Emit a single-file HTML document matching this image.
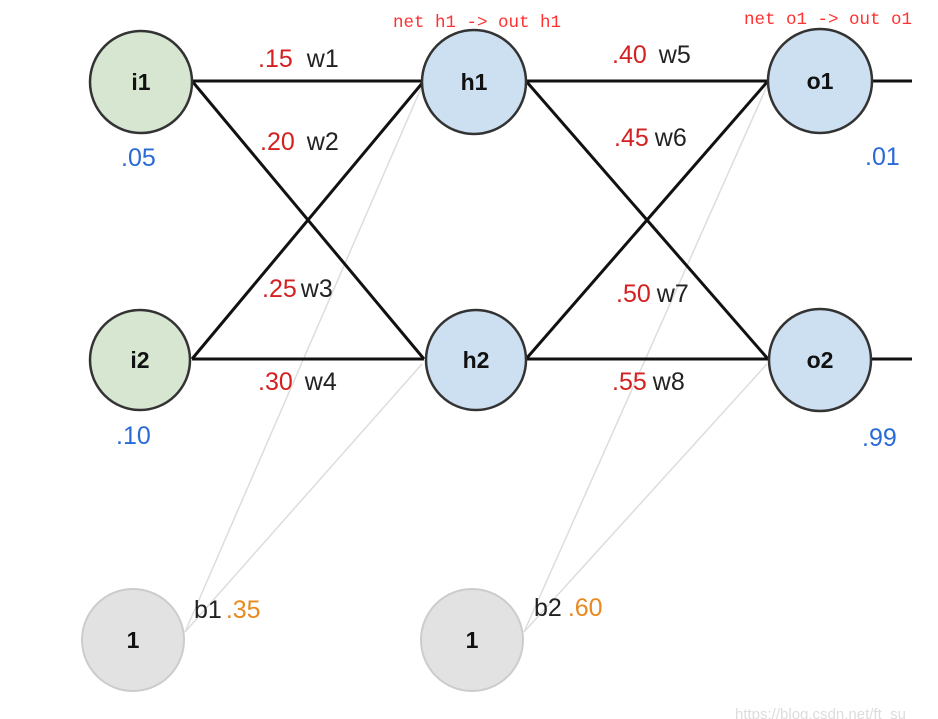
<!DOCTYPE html>
<html><head><meta charset="utf-8"><style>html,body{margin:0;padding:0;background:#fff}svg{display:block}</style></head>
<body>
<svg width="938" height="719" viewBox="0 0 938 719" xmlns="http://www.w3.org/2000/svg" font-family="Liberation Sans, Arial, sans-serif">
<g stroke="#ddd" stroke-width="1.5">
<line x1="185" y1="632" x2="422" y2="86"/>
<line x1="185" y1="632" x2="422" y2="364"/>
<line x1="524" y1="632" x2="767" y2="86"/>
<line x1="524" y1="632" x2="767" y2="364"/>
</g>
<g stroke="#111" stroke-width="3">
<line x1="192" y1="81" x2="424" y2="81"/>
<line x1="192" y1="81" x2="424" y2="359"/>
<line x1="192" y1="359" x2="424" y2="81"/>
<line x1="192" y1="359" x2="424" y2="359"/>
<line x1="526" y1="81" x2="768" y2="81"/>
<line x1="526" y1="81" x2="768" y2="359"/>
<line x1="526" y1="359" x2="768" y2="81"/>
<line x1="526" y1="359" x2="768" y2="359"/>
<line x1="870" y1="81" x2="912" y2="81"/>
<line x1="870" y1="359" x2="912" y2="359"/>
</g>
<g stroke="#333" stroke-width="2.5">
<circle cx="141" cy="82" r="51" fill="#d6e6d0"/>
<circle cx="140" cy="360" r="50" fill="#d6e6d0"/>
<circle cx="474" cy="82" r="52" fill="#cde0f1"/>
<circle cx="476" cy="360" r="50" fill="#cde0f1"/>
<circle cx="820" cy="81" r="52" fill="#cde0f1"/>
<circle cx="820" cy="360" r="51" fill="#cde0f1"/>
</g>
<g stroke="#ccc" stroke-width="2" fill="#e2e2e2">
<circle cx="133" cy="640" r="51"/>
<circle cx="472" cy="640" r="51"/>
</g>
<g font-size="23" font-weight="bold" fill="#111" text-anchor="middle">
<text x="141" y="90">i1</text><text x="140" y="368">i2</text>
<text x="474" y="90">h1</text><text x="476" y="368">h2</text>
<text x="820" y="89">o1</text><text x="820" y="368">o2</text>
<text x="133" y="648">1</text><text x="472" y="648">1</text>
</g>
<g font-size="25">
<text x="258" y="67"><tspan fill="#d42020">.15</tspan><tspan fill="#222" dx="14">w1</tspan></text>
<text x="260" y="150"><tspan fill="#d42020">.20</tspan><tspan fill="#222" dx="12">w2</tspan></text>
<text x="262" y="297"><tspan fill="#d42020">.25</tspan><tspan fill="#222" dx="4">w3</tspan></text>
<text x="258" y="390"><tspan fill="#d42020">.30</tspan><tspan fill="#222" dx="12">w4</tspan></text>
<text x="612" y="63"><tspan fill="#d42020">.40</tspan><tspan fill="#222" dx="12">w5</tspan></text>
<text x="614" y="146"><tspan fill="#d42020">.45</tspan><tspan fill="#222" dx="6">w6</tspan></text>
<text x="616" y="302"><tspan fill="#d42020">.50</tspan><tspan fill="#222" dx="6">w7</tspan></text>
<text x="612" y="390"><tspan fill="#d42020">.55</tspan><tspan fill="#222" dx="6">w8</tspan></text>
<text x="121" y="166" fill="#2a6ad8">.05</text>
<text x="116" y="444" fill="#2a6ad8">.10</text>
<text x="865" y="165" fill="#2a6ad8">.01</text>
<text x="862" y="446" fill="#2a6ad8">.99</text>
<text x="194" y="618"><tspan fill="#222">b1</tspan><tspan fill="#e88a20" dx="4">.35</tspan></text>
<text x="534" y="616"><tspan fill="#222">b2</tspan><tspan fill="#e88a20" dx="6">.60</tspan></text>
</g>
<g font-family="Liberation Mono, monospace" font-size="17.5" fill="#ff3030">
<text x="393" y="27">net h1 -&gt; out h1</text>
<text x="744" y="24">net o1 -&gt; out o1</text>
</g>
<text x="735" y="719" font-size="15" fill="#ddd">https://blog.csdn.net/ft_su</text>
</svg>
</body></html>
